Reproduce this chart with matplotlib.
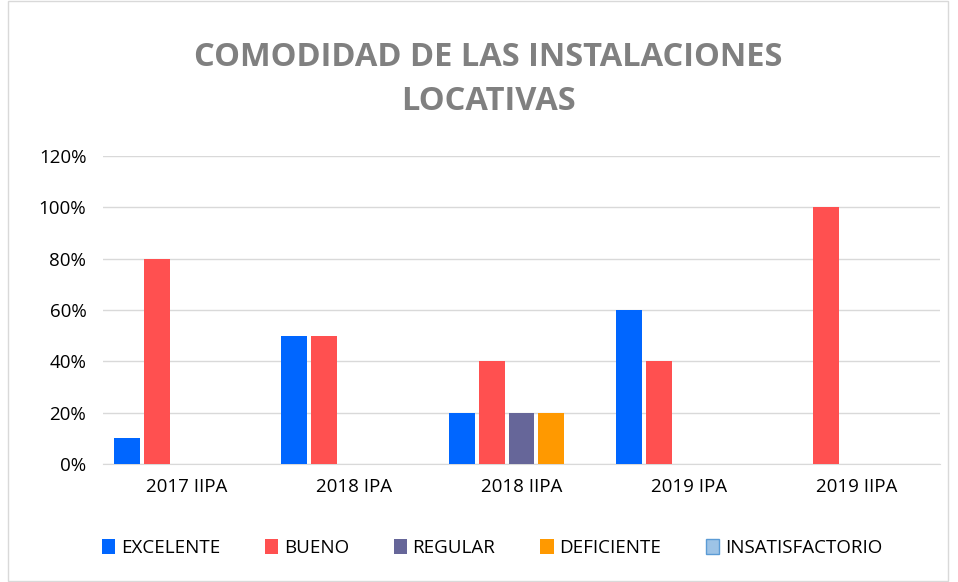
import matplotlib
matplotlib.use("Agg")
import matplotlib.pyplot as plt
import numpy as np
from matplotlib.patches import Rectangle

categories = ["2017 IIPA", "2018 IPA", "2018 IIPA", "2019 IPA", "2019 IIPA"]
series = ["EXCELENTE", "BUENO", "REGULAR", "DEFICIENTE", "INSATISFACTORIO"]
excelente = [0.10, 0.50, 0.20, 0.60, 0.0]
bueno = [0.80, 0.50, 0.40, 0.40, 1.00]
regular = [0.0, 0.0, 0.20, 0.0, 0.0]
deficiente = [0.0, 0.0, 0.20, 0.0, 0.0]
insatisfactorio = [0.0, 0.0, 0.0, 0.0, 0.0]
yticks = [0, 0.2, 0.4, 0.6, 0.8, 1.0, 1.2]

values = [excelente, bueno, regular, deficiente, insatisfactorio]
colors = ["#0066FF", "#FF5050", "#666699", "#FF9900", "#9DC3E6"]
edges = ["none", "none", "none", "none", "#5B9BD5"]

plt.rcParams["font.family"] = ["Open Sans", "DejaVu Sans"]

fig = plt.figure(figsize=(9.58, 5.82), dpi=100)
W, H = 958, 582
ax = fig.add_axes([103 / W, 1 - 464 / H, (940 - 103) / W, (464 - 156) / H])

x = np.arange(len(categories))
slot = 0.179
width = 0.155
for i, (name, vals) in enumerate(zip(series, values)):
    # zero-height bars get no outline so nothing shows on the baseline
    lws = [1.0 if (v > 0 and edges[i] != "none") else 0 for v in vals]
    ax.bar(x + (i - 2) * slot, vals, width, color=colors[i],
           edgecolor=edges[i], linewidth=lws, label=name, zorder=3)

ax.set_xlim(-0.5, len(categories) - 0.5)
ax.set_ylim(0, 1.2)
ax.set_yticks(yticks)
ax.set_yticklabels([f"{int(round(v * 100))}%" for v in yticks])
ax.set_xticks(x)
ax.set_xticklabels(categories)
ax.tick_params(axis="both", length=0, labelsize=13.5, colors="#000000")
ax.tick_params(axis="y", pad=12)
ax.tick_params(axis="x", pad=10)
ax.grid(axis="y", color="#D9D9D9", lw=1.0, zorder=0)
for s in ["top", "right", "left"]:
    ax.spines[s].set_visible(False)
ax.spines["bottom"].set_color("#D9D9D9")

tx = 488 / W
fig.text(tx, 1 - 57 / H, "COMODIDAD DE LAS INSTALACIONES", ha="center", va="center",
         fontsize=23.5, fontweight="bold", color="#808080")
fig.text(tx, 1 - 101 / H, "LOCATIVAS", ha="center", va="center",
         fontsize=23.5, fontweight="bold", color="#808080")

leg = fig.legend(loc="center", bbox_to_anchor=(492 / W, 1 - 548 / H), ncol=5, frameon=False,
                 fontsize=13.5, handlelength=0.7, handleheight=0.9, handletextpad=0.3,
                 columnspacing=2.4)
leg.legend_handles[4].set_linewidth(1.0)

fig.patches.append(Rectangle((8 / W, 1 / H), 940 / W, 580 / H, transform=fig.transFigure,
                             fill=False, edgecolor="#D9D9D9", lw=1))

fig.savefig("out.png", dpi=100)
